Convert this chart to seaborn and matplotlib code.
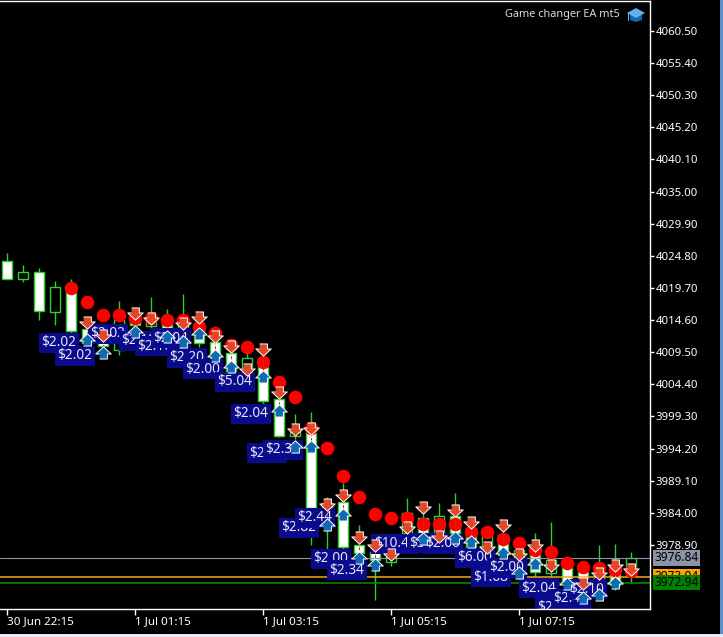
import matplotlib
matplotlib.use("Agg")
import matplotlib.pyplot as plt
from matplotlib.patches import Polygon, Rectangle
from matplotlib.transforms import Affine2D, blended_transform_factory
import pandas as pd
import seaborn as sns

# ---------------------------------------------------------
# DATA
# ---------------------------------------------------------
body_top = [4023.99, 4022.24, 4022.24, 4019.86, 4019.38, 4013.19, 4012.71, 4014.62, 4015.10, 4014.94,
            4014.62, 4014.62, 4014.14, 4011.13, 4009.38, 4008.59, 4007.16, 4002.08, 3996.84, 3996.68,
            3985.57, 3985.73, 3978.90, 3977.79, 3977.79, 3983.98, 3983.19, 3983.50, 3983.50, 3981.60,
            3980.49, 3980.49, 3978.11, 3977.63, 3976.52, 3975.41, 3974.61, 3974.14, 3974.93, 3976.84]
body_bottom = [4021.13, 4021.13, 4016.05, 4015.89, 4012.87, 4010.97, 4010.49, 4009.86, 4013.83, 4013.67,
               4013.35, 4010.65, 4010.97, 4008.27, 4006.37, 4007.16, 4001.76, 3996.20, 3996.20, 3984.77,
               3982.87, 3978.58, 3977.63, 3976.52, 3976.20, 3980.81, 3980.81, 3980.49, 3980.81, 3978.58,
               3978.90, 3977.31, 3974.93, 3974.61, 3974.45, 3973.03, 3972.87, 3972.55, 3972.55, 3973.98]
high = [4025.26, 4023.35, 4022.87, 4020.81, 4021.13, 4013.83, 4013.35, 4017.64, 4016.21, 4018.27,
        4016.37, 4018.75, 4015.89, 4012.24, 4010.65, 4009.38, 4008.27, 4002.71, 3999.70, 4000.02,
        3986.52, 3988.74, 3982.08, 3979.22, 3978.90, 3986.36, 3985.25, 3985.57, 3987.16, 3982.55,
        3981.28, 3981.60, 3979.70, 3980.81, 3982.55, 3976.52, 3975.25, 3978.90, 3979.06, 3977.79]
low = [4021.13, 4020.65, 4014.62, 4013.83, 4012.56, 4010.49, 4009.86, 4009.06, 4010.65, 4013.03,
       4011.45, 4009.54, 4010.33, 4007.95, 4006.05, 4006.37, 4001.13, 3996.05, 3995.25, 3978.90,
       3978.11, 3978.11, 3975.73, 3970.17, 3975.57, 3980.49, 3980.49, 3980.01, 3980.33, 3978.27,
       3978.42, 3976.52, 3973.66, 3973.82, 3973.35, 3972.55, 3971.76, 3971.44, 3971.76, 3972.87]
# white filled candles fell, black filled ones rose
falling = [1, 0, 1, 0, 1, 1, 1, 0, 1, 0,
           1, 0, 1, 1, 1, 0, 1, 1, 0, 1,
           1, 1, 1, 1, 0, 0, 1, 0, 1, 1,
           0, 1, 0, 1, 0, 1, 1, 0, 1, 0]

dot_bar = list(range(4, 40))
dot_price = [4019.70, 4017.48, 4015.41, 4015.41, 4014.94, 4014.94, 4014.62, 4014.62, 4013.51, 4012.56,
             4010.65, 4010.33, 4007.95, 4004.78, 4002.39, 3997.47, 3994.30, 3989.86, 3986.52, 3983.82,
             3983.19, 3983.19, 3982.24, 3982.24, 3982.24, 3980.97, 3980.97, 3979.85, 3979.22, 3978.11,
             3977.79, 3976.04, 3975.41, 3975.25, 3974.93, 3974.77]

sell_bar = [5, 6, 8, 9, 11, 12, 13, 14, 15, 16, 17, 18, 19, 20, 21, 22,
            23, 24, 25, 26, 27, 28, 29, 30, 31, 32, 33, 34, 36, 37, 38, 39]
sell_price = [4014.30, 4012.24, 4015.73, 4014.94, 4014.14, 4015.10, 4012.08, 4010.49,
              4006.84, 4010.02, 4003.19, 3997.31, 3997.47, 3985.41, 3986.84, 3980.17,
              3978.90, 3977.47, 3981.76, 3984.93, 3980.33, 3984.46, 3982.55, 3978.58,
              3982.08, 3977.47, 3978.90, 3975.73, 3972.87, 3974.45, 3975.73, 3975.09]

buy_bar = [5, 6, 8, 10, 11, 12, 13, 14, 16, 17, 18, 19, 20, 21, 22, 23,
           26, 28, 29, 31, 32, 33, 35, 36, 37, 38]
buy_price = [4011.45, 4009.38, 4012.71, 4011.92, 4011.13, 4012.40, 4008.91, 4007.16,
             4005.57, 4000.18, 3994.46, 3994.46, 3982.08, 3983.66, 3976.84, 3975.73,
             3979.85, 3980.01, 3979.38, 3977.63, 3974.45, 3975.89, 3972.71, 3970.49,
             3970.96, 3972.87]

profit_text = ["$2.02", "$2.02", "$2.02", "$2.18", "$2.10", "$2.04", "$2.20", "$2.00", "$5.04", "$2.04",
               "$2.32", "$2.32", "$2.82", "$2.44", "$2.00", "$2.34", "$10.44", "$3.00", "$2.00",
               "$6.00", "$1.68", "$2.00", "$2.04", "$2.64", "$2.44", "$2.10"]
profit_bar = [3.25, 4.25, 6.31, 8.25, 9.25, 10.25, 11.25, 12.25, 14.25, 15.25,
              16.25, 17.25, 18.25, 19.25, 20.25, 21.25, 24.25, 26.25, 27.25,
              29.25, 30.25, 31.25, 33.25, 34.25, 35.25, 36.25]
profit_price = [4010.97, 4008.91, 4012.40, 4011.29, 4010.49, 4011.76, 4008.59, 4006.84, 4004.78, 3999.70,
                3993.50, 3994.00, 3981.60, 3983.19, 3976.68, 3974.93, 3979.06, 3979.20, 3979.06,
                3976.84, 3973.82, 3975.25, 3972.07, 3968.90, 3970.33, 3971.90]

y_ticks = [4060.50, 4055.40, 4050.30, 4045.20, 4040.10, 4035.00, 4029.90, 4024.80, 4019.70,
           4014.60, 4009.50, 4004.40, 3999.30, 3994.20, 3989.10, 3984.00, 3978.90]
x_ticks = [0, 8, 16, 24, 32]
x_labels = ["30 Jun 22:15", "1 Jul 01:15", "1 Jul 03:15", "1 Jul 05:15", "1 Jul 07:15"]

level_price = [3976.84, 3973.84, 3972.94]
level_text = ["3976.84", "3973.94", "3972.94"]
level_line = ["#8a94a6", "#f5a623", "#0a8a0a"]
level_box = ["#8a94a6", "#ffa500", "#008000"]

# ---------------------------------------------------------
# FIGURE
# ---------------------------------------------------------
sns.set_style("dark", {"axes.facecolor": "black", "figure.facecolor": "black"})
plt.rcParams["font.family"] = ["Noto Sans", "DejaVu Sans"]

GREEN = "#2ed02e"

fig = plt.figure(figsize=(7.23, 6.37), dpi=100)
ax = fig.add_axes([0, 28 / 637, 650 / 723, 608 / 637])
px = Affine2D().scale(1, -1).translate(0, 637)  # picture pixels, for the window furniture

bars = pd.DataFrame({"bar": range(len(high)), "top": body_top, "bottom": body_bottom,
                     "high": high, "low": low, "falling": falling})

# candles
ax.vlines(bars["bar"], bars["low"], bars["high"], color=GREEN, lw=1, zorder=2)
ax.bar(bars["bar"], bars["top"] - bars["bottom"], bottom=bars["bottom"], width=0.58,
       color=["white" if f else "black" for f in falling], edgecolor=GREEN, linewidth=1, zorder=3)

# price levels
for p, c in zip(level_price, level_line):
    ax.axhline(p, color=c, lw=1.1 if c != "#8a94a6" else 0.8, zorder=3.5)

# indicator dots
dots = pd.DataFrame({"bar": dot_bar, "price": dot_price})
sns.scatterplot(data=dots, x="bar", y="price", ax=ax, color="#ff0000", s=95, linewidth=0, zorder=4)

# profit labels, later ones sit on the earlier ones
for i, (b, p, t) in enumerate(zip(profit_bar, profit_price, profit_text)):
    ax.text(b, p, t, color="#e6e6f5", fontsize=9.8, ha="center", va="center", zorder=5 + i * 0.001,
            clip_on=True, bbox=dict(boxstyle="square,pad=0.2", fc="#0a0a8c", ec="none"))

# thin dashed links between the sell and buy arrow of a bar
sell_at = dict(zip(sell_bar, sell_price))
buy_at = dict(zip(buy_bar, buy_price))
for b in sell_at.keys() & buy_at.keys():
    ax.plot([b, b], [sell_at[b], buy_at[b]], color="#e02020", lw=0.7, ls=(0, (3, 2)), zorder=5.5)

# trade arrows
down_arrow = [(-0.35, 0.5), (0.35, 0.5), (0.35, 0.05), (0.7, 0.05), (0, -0.6), (-0.7, 0.05), (-0.35, 0.05)]
up_arrow = [(x, -y) for x, y in down_arrow]
sells = pd.DataFrame({"bar": sell_bar, "price": sell_price})
buys = pd.DataFrame({"bar": buy_bar, "price": buy_price})
sns.scatterplot(data=sells, x="bar", y="price", ax=ax, marker=down_arrow, color="#e0482a", s=125,
                edgecolor="white", linewidth=0.7, zorder=6)
sns.scatterplot(data=buys, x="bar", y="price", ax=ax, marker=up_arrow, color="#0f6ab4", s=125,
                edgecolor="white", linewidth=0.7, zorder=6)

# axes
ax.set_xlim(-7 / 16, 643 / 16)
ax.set_ylim(3968.74, 4065.26)
ax.set_xlabel("")
ax.set_ylabel("")
ax.grid(False)
for name, spine in ax.spines.items():
    spine.set_visible(name != "left")
    spine.set_color("white")
    spine.set_linewidth(1)
    spine.set_zorder(10)
ax.yaxis.tick_right()
ax.set_yticks(y_ticks, [f"{v:.2f}" for v in y_ticks])
ax.set_xticks(x_ticks, x_labels, ha="left")
ax.tick_params(axis="y", colors="white", length=3, width=1, pad=1, labelsize=8.2, right=True, left=False)
ax.tick_params(axis="x", colors="white", length=4, width=1, pad=1, labelsize=8.4, bottom=True)

# price tags on the scale
tag = blended_transform_factory(ax.transAxes, ax.transData)
for i, (p, t, c) in enumerate(zip(level_price, level_text, level_box)):
    ax.text(1.0062, p, t, transform=tag, color="black", fontsize=8.6, ha="left", va="center", clip_on=False,
            zorder=11 + i, bbox=dict(boxstyle="square,pad=0.12", fc=c, ec="none"))

# caption with the little cap icon
ax.text(620, 15, "Game changer EA mt5", transform=px, color="#dcdcdc", fontsize=7.9,
        ha="right", va="center", zorder=12)
fig.add_artist(Polygon([(630, 15), (642, 15), (642, 20), (636, 22), (630, 20)], transform=px, fc="#0f6ab4", ec="none"))
fig.add_artist(Polygon([(627, 13), (636, 8), (645, 13), (636, 18)], transform=px, fc="#5fb4ea", ec="none"))
fig.add_artist(Rectangle((628, 13), 1, 8, transform=px, fc="#5fb4ea", ec="none"))

# window edges
fig.add_artist(Rectangle((720, 0), 3, 637, transform=px, fc="#5b8fc9", ec="none"))
fig.add_artist(Rectangle((0, 634), 723, 3, transform=px, fc="#e8ecf2", ec="none"))

fig.savefig("out.png", dpi=100, facecolor="black")
